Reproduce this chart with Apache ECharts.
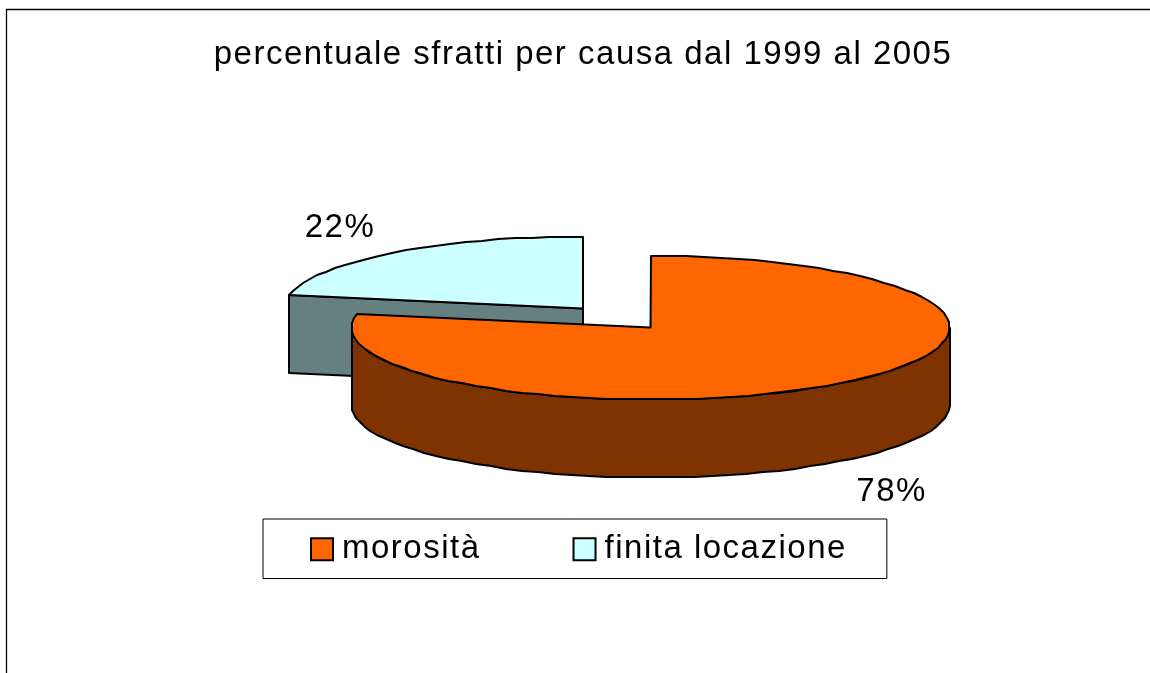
<!DOCTYPE html>
<html>
<head>
<meta charset="utf-8">
<style>html,body{margin:0;padding:0;background:#fff}#c{width:1150px;height:673px}</style>
<script src="https://cdn.jsdelivr.net/npm/echarts@6/dist/echarts.min.js"></script>
</head>
<body>
<div id="c"></div>
<script>
const titleText = 'percentuale sfratti per causa dal 1999 al 2005';
const categories = ['morosità', 'finita locazione'];
const values = [78, 22];
const topColors = ['#FF6600', '#CCFFFF'];
const sideColors = ['#7F3300', '#668080'];
const centers = [[650.5, 327.5], [583, 308.5]];
const radiusX = 299, radiusY = 72, depth = 78;
const fontFamily = '"Liberation Sans", Arial, sans-serif';
const total = values.reduce((a, b) => a + b, 0);

// The reference sets its text with slightly open tracking
const getCtx = HTMLCanvasElement.prototype.getContext;
HTMLCanvasElement.prototype.getContext = function () {
  const ctx = getCtx.apply(this, arguments);
  if (ctx && 'letterSpacing' in ctx) ctx.letterSpacing = '1.5px';
  return ctx;
};

function renderSlice(params, api) {
  const i = params.seriesIndex === 0 ? 1 : 0;   // back slice is drawn first
  const v = api.value(0);
  const before = values.slice(0, i).reduce((a, b) => a + b, 0);
  const a0 = before / total * 2 * Math.PI;
  const a1 = (before + v) / total * 2 * Math.PI;
  const [cx, cy] = centers[i];
  const pt = (a, dy) => [Math.round(cx + radiusX * Math.sin(a)), Math.round(cy - radiusY * Math.cos(a) + (dy || 0))];
  const arc = (from, to, dy) => {
    const n = Math.max(2, Math.ceil(Math.abs(to - from) / 0.06));
    const out = [];
    for (let k = 0; k <= n; k++) out.push(pt(from + (to - from) * k / n, dy));
    return out;
  };
  const stroke = { stroke: '#000', lineWidth: 2, lineJoin: 'round' };
  const children = [];
  // cut face that looks at the viewer
  if (Math.sin(a0) < -1e-6) {
    children.push({ type: 'polygon', shape: { points: [pt(a0), [cx, cy], [cx, cy + depth], pt(a0, depth)] },
      style: Object.assign({ fill: sideColors[i] }, stroke) });
  }
  // front rim
  const r0 = Math.max(a0, Math.PI / 2), r1 = Math.min(a1, 3 * Math.PI / 2);
  if (r1 > r0) {
    children.push({ type: 'polygon', shape: { points: arc(r0, r1, 0).concat(arc(r1, r0, depth)) },
      style: Object.assign({ fill: sideColors[i] }, stroke) });
  }
  // top face
  children.push({ type: 'polygon', shape: { points: [[cx, cy]].concat(arc(a0, a1, 0)) },
    style: Object.assign({ fill: topColors[i] }, stroke) });
  // percent label
  const mid = (a0 + a1) / 2;
  const lx = cx + 1.27 * radiusX * Math.sin(mid) - 1;
  const cosm = Math.cos(mid);
  const ly = cy - 1.5 * radiusY * cosm + (cosm < 0 ? depth : 0) + 3;
  children.push({ type: 'text', style: { text: Math.round(v / total * 100) + '%', x: lx, y: ly,
    fill: '#000', font: '33px ' + fontFamily, textAlign: 'center', textVerticalAlign: 'middle' }, z2: 10 });
  return { type: 'group', children };
}

const order = [1, 0];
const chart = echarts.init(document.getElementById('c'), null, { renderer: 'canvas' });
chart.setOption({
  animation: false,
  backgroundColor: '#fff',
  graphic: [{ type: 'rect', silent: true, z: -1, shape: { x: 6.5, y: 9.5, width: 1300, height: 900 },
    style: { fill: '#fff', stroke: '#000', lineWidth: 1.3 } }],
  title: { text: titleText, left: 578, top: 33, textAlign: 'center',
    textStyle: { fontFamily, fontWeight: 'normal', fontSize: 33, color: '#000' } },
  legend: {
    left: 263, top: 519, orient: 'horizontal',
    data: categories.map((name, i) => ({ name, icon: 'rect',
      itemStyle: { color: topColors[i], borderColor: '#000', borderWidth: 2 } })),
    itemWidth: 22, itemHeight: 22, itemGap: 92,
    padding: [13, 40, 12, 47],
    backgroundColor: '#fff', borderColor: '#000', borderWidth: 1,
    textStyle: { fontFamily, fontSize: 33, color: '#000', padding: [0, 0, 0, 4] }
  },
  series: order.map(i => ({
    type: 'custom', name: categories[i], coordinateSystem: 'none',
    renderItem: renderSlice, data: [values[i]], silent: true,
    itemStyle: { color: topColors[i] }
  }))
});
</script>
</body>
</html>
